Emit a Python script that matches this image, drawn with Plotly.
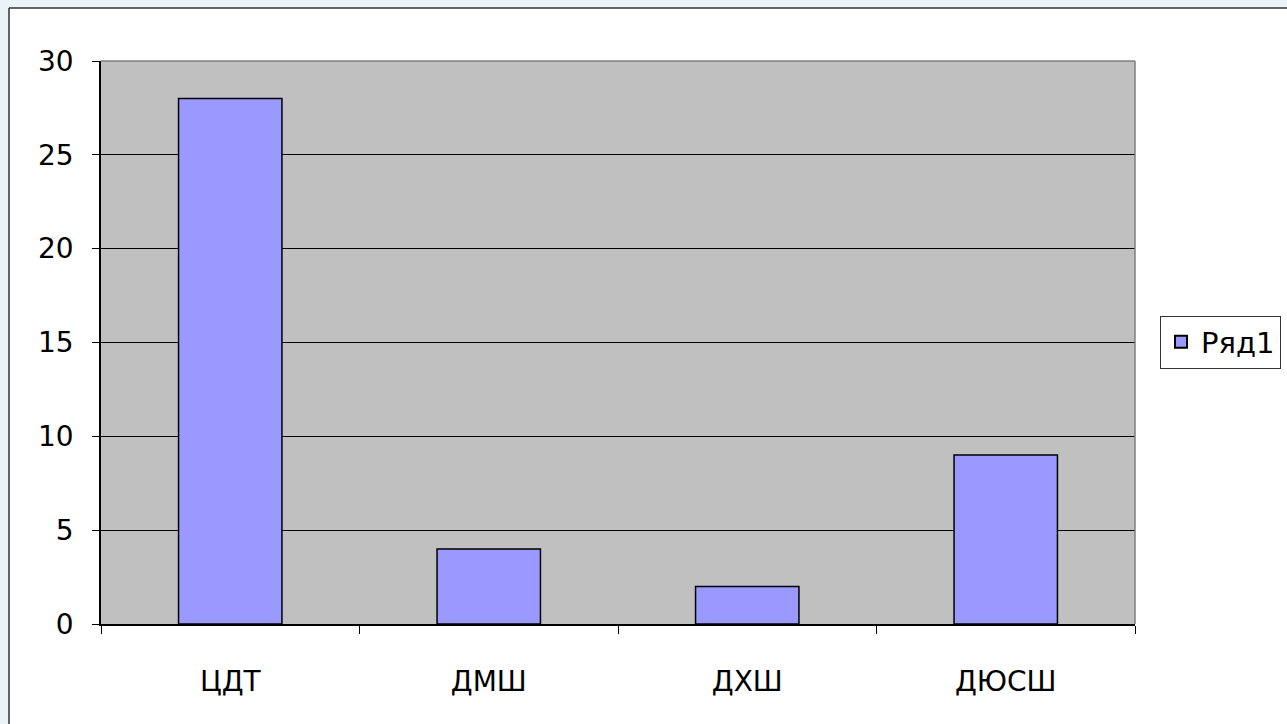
import plotly.graph_objects as go

categories = ["ЦДТ", "ДМШ", "ДХШ", "ДЮСШ"]
values = [28, 4, 2, 9]
series_name = "Ряд1"
y_ticks = [0, 5, 10, 15, 20, 25, 30]

W, H = 1287, 724
ml, mr, mt, mb = 101, 152, 61, 100
pw, ph = W - ml - mr, H - mt - mb

def px_x(x):
    return (x - ml) / pw

def px_y(y):
    return (H - mb - y) / ph

fig = go.Figure()
fig.add_trace(go.Bar(
    x=categories, y=values, name=series_name,
    marker=dict(color="#9999FF", line=dict(color="#000000", width=1.5)),
    showlegend=True,
))

font = dict(family="DejaVu Sans", size=28, color="#000000")
blue = "#EAF4F8"

fig.update_layout(
    width=W, height=H,
    margin=dict(l=ml, r=mr, t=mt, b=mb, pad=0, autoexpand=False),
    paper_bgcolor="#FFFFFF",
    plot_bgcolor="#C0C0C0",
    bargap=0.6,
    font=font,
    showlegend=True,
    legend=dict(
        x=px_x(1160), y=px_y(342),
        xanchor="left", yanchor="middle",
        bgcolor="#FFFFFF", bordercolor="#333333", borderwidth=1,
        font=dict(family="DejaVu Sans", size=29, color="#000000"),
        itemsizing="constant",
        tracegroupgap=0,
    ),
    shapes=[
        # light blue outer strips
        dict(type="rect", xref="paper", yref="paper",
             x0=px_x(-5), x1=px_x(9), y0=px_y(H + 5), y1=px_y(-5),
             fillcolor=blue, line=dict(width=0), layer="below"),
        dict(type="rect", xref="paper", yref="paper",
             x0=px_x(-5), x1=px_x(W + 5), y0=px_y(8), y1=px_y(-5),
             fillcolor=blue, line=dict(width=0), layer="below"),
        # dark frame of chart area
        dict(type="line", xref="paper", yref="paper",
             x0=px_x(9), x1=px_x(W + 5), y0=px_y(8), y1=px_y(8),
             line=dict(color="#333333", width=1.5), layer="below"),
        dict(type="line", xref="paper", yref="paper",
             x0=px_x(9), x1=px_x(9), y0=px_y(8), y1=px_y(H + 5),
             line=dict(color="#333333", width=1.5), layer="below"),
        # plot-area border (top and right)
        dict(type="line", xref="paper", yref="paper",
             x0=0, x1=1, y0=1, y1=1, line=dict(color="#808080", width=1.5)),
        dict(type="line", xref="paper", yref="paper",
             x0=1, x1=1, y0=0, y1=1, line=dict(color="#808080", width=1.5)),
    ],
)

fig.update_xaxes(
    type="category",
    showgrid=False,
    showline=True, linecolor="#000000", linewidth=1.5,
    ticks="outside", tickson="boundaries", ticklen=8, tickcolor="#000000", tickwidth=1,
    ticklabelstandoff=32,
    tickfont=font,
)
fig.update_yaxes(
    range=[0, 30],
    tickvals=y_ticks,
    showgrid=True, gridcolor="#000000", gridwidth=1,
    showline=True, linecolor="#000000", linewidth=1.5,
    ticks="outside", ticklen=7, tickcolor="#000000", tickwidth=1,
    ticklabelstandoff=13,
    tickfont=font,
    zeroline=False,
)

fig.write_html(
    "out.html",
    config={"displayModeBar": False},
    post_script="document.body.style.margin='0';document.body.style.padding='0';document.body.style.overflow='hidden';",
)
